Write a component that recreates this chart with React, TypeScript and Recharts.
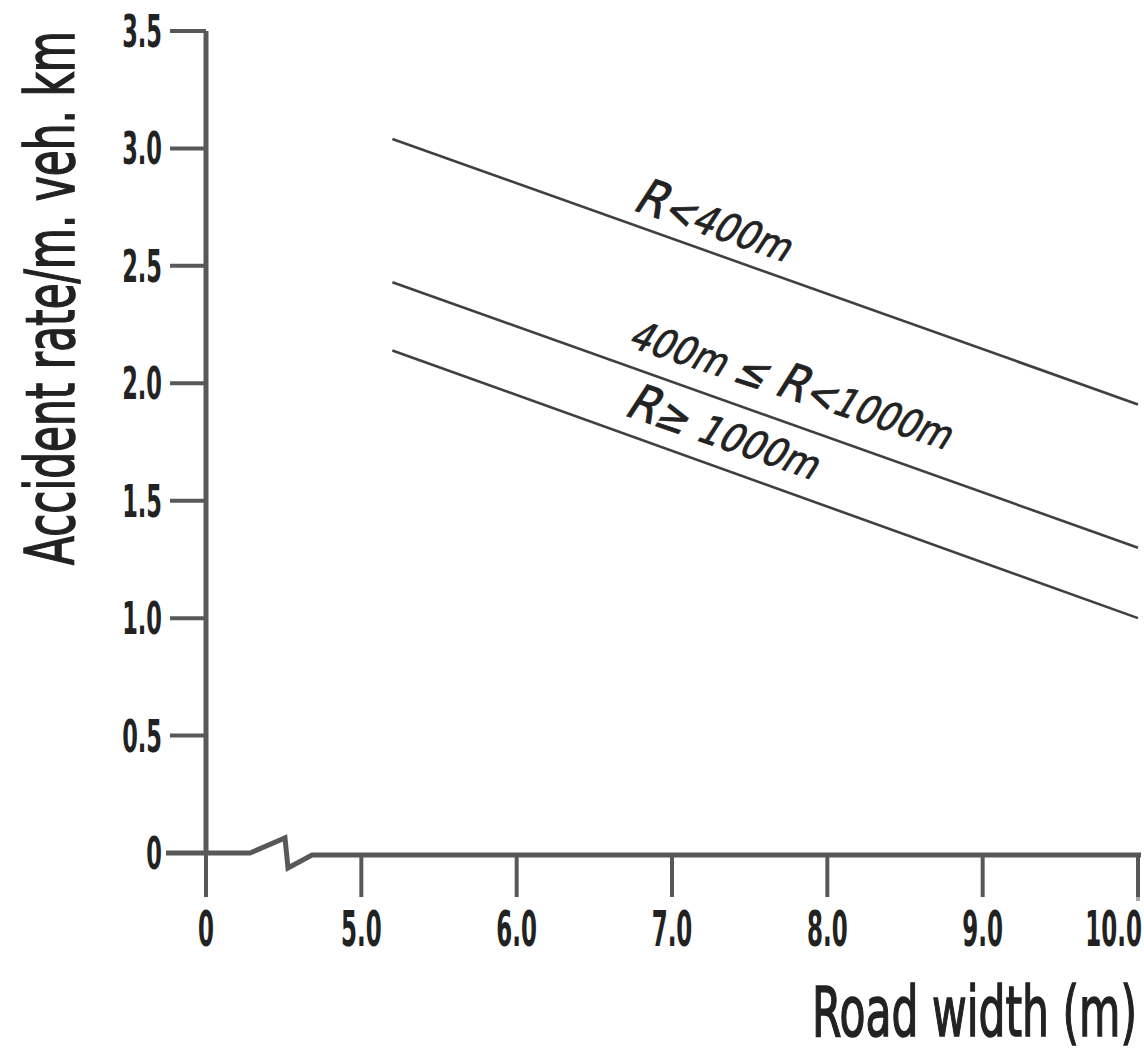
import React from 'react';
import { LineChart, Line, XAxis, YAxis, ReferenceDot, Customized } from 'recharts';

// Road width (m) at the two ends of each fitted line
const roadWidth = [5.2, 10];
// Accident rate per million veh-km, by curve radius
const rateTightCurve = [3.04, 1.91]; // R < 400m
const rateMediumCurve = [2.43, 1.3]; // 400m <= R < 1000m
const rateGentleCurve = [2.14, 1.0]; // R >= 1000m

const xTicks = [4, 5, 6, 7, 8, 9, 10];
const xTickLabels = ['0', '5.0', '6.0', '7.0', '8.0', '9.0', '10.0'];
const yTicks = [0, 0.5, 1, 1.5, 2, 2.5, 3, 3.5];
const yTickLabels = ['0', '0.5', '1.0', '1.5', '2.0', '2.5', '3.0', '3.5'];

const data = roadWidth.map((w, i) => ({
  width: w,
  tight: rateTightCurve[i],
  medium: rateMediumCurve[i],
  gentle: rateGentleCurve[i],
}));

const FONT = '"DejaVu Sans", Verdana, sans-serif';
const INK = '#222';
const LINE = '#404040';
const AXIS = '#585858';

const W = 1144;
const H = 1051;
const PLOT_LEFT = 206;
const PLOT_BOTTOM = 853;
const PLOT_RIGHT = 1138;

const YTick = ({ x, y, payload }: any) => {
  const label = yTickLabels[yTicks.indexOf(payload.value)];
  return (
    <g transform={`translate(${x},${y}) scale(0.5,1)`}>
      <text x={0} y={16} textAnchor="end" fontFamily={FONT} fontWeight="bold" fontSize={45} fill={INK}>
        {label}
      </text>
    </g>
  );
};

const XTick = ({ x, y, payload }: any) => {
  const label = xTickLabels[xTicks.indexOf(payload.value)];
  const last = payload.value === xTicks[xTicks.length - 1];
  // the last label is pulled in so it stays on the page
  return (
    <g transform={`translate(${last ? W - 2 : x},${y}) scale(0.46,1)`}>
      <text
        x={0}
        y={49}
        textAnchor={last ? 'end' : 'middle'}
        fontFamily={FONT}
        fontWeight="bold"
        fontSize={50}
        fill={INK}
      >
        {label}
      </text>
    </g>
  );
};

// rotated, slanted note that sits along a line
const CurveLabel = ({ cx, cy, angle, length, children }: any) => (
  <text
    transform={`translate(${cx},${cy}) rotate(${angle}) skewX(-14)`}
    x={0}
    y={14}
    textAnchor="middle"
    fontFamily={FONT}
    fill={INK}
    stroke={INK}
    strokeWidth={0.8}
    textLength={length}
    lengthAdjust="spacingAndGlyphs"
  >
    {children}
  </text>
);

// x axis drawn by hand so it can carry the break mark near the origin
const AxisFrame = () => (
  <g>
    <polyline
      points={`${PLOT_LEFT - 40},${PLOT_BOTTOM} 250,${PLOT_BOTTOM} 285,838 288,868 312,${PLOT_BOTTOM + 2} ${PLOT_RIGHT + 3},${PLOT_BOTTOM + 2}`}
      fill="none"
      stroke={AXIS}
      strokeWidth={5}
      strokeLinejoin="miter"
    />
    <line x1={PLOT_RIGHT} y1={PLOT_BOTTOM} x2={PLOT_RIGHT} y2={PLOT_BOTTOM + 48} stroke="#aaa" strokeWidth={4} />
    <g transform="translate(74,298) rotate(-90) scale(0.6,1)">
      <text
        x={0}
        y={0}
        textAnchor="middle"
        fontFamily={FONT}
        fontSize={68}
        fill={INK}
        stroke={INK}
        strokeWidth={1.6}
        textLength={890}
        lengthAdjust="spacingAndGlyphs"
      >
        Accident rate/m. veh. km
      </text>
    </g>
    <g transform="translate(812,1036) scale(0.52,1)">
      <text
        x={0}
        y={0}
        fontFamily={FONT}
        fontSize={70}
        fill={INK}
        stroke={INK}
        strokeWidth={1.6}
        textLength={625}
        lengthAdjust="spacingAndGlyphs"
      >
        Road width (m)
      </text>
    </g>
  </g>
);

export default function App() {
  return (
    <div style={{ position: 'absolute', left: 0, top: 0, width: W, height: H, background: '#fff' }}>
      <LineChart width={W} height={H} data={data} margin={{ top: 31, right: W - PLOT_RIGHT, bottom: 0, left: 0 }}>
        <XAxis
          dataKey="width"
          type="number"
          domain={[4, 10]}
          ticks={xTicks}
          height={H - PLOT_BOTTOM}
          axisLine={false}
          tickSize={44}
          tickMargin={0}
          tickLine={{ stroke: AXIS, strokeWidth: 4 }}
          tick={(p: any) => <XTick {...p} />}
          interval={0}
        />
        <YAxis
          type="number"
          domain={[0, 3.5]}
          ticks={yTicks}
          width={PLOT_LEFT}
          axisLine={{ stroke: AXIS, strokeWidth: 5 }}
          tickSize={36}
          tickMargin={8}
          tickLine={{ stroke: AXIS, strokeWidth: 4 }}
          tick={(p: any) => <YTick {...p} />}
          interval={0}
        />
        <Customized component={<AxisFrame />} />
        <Line type="linear" dataKey="tight" stroke={LINE} strokeWidth={2.6} dot={false} isAnimationActive={false} />
        <Line type="linear" dataKey="medium" stroke={LINE} strokeWidth={2.6} dot={false} isAnimationActive={false} />
        <Line type="linear" dataKey="gentle" stroke={LINE} strokeWidth={2.6} dot={false} isAnimationActive={false} />
        <ReferenceDot
          x={7.28}
          y={2.68}
          r={0}
          shape={(p: any) => (
            <CurveLabel cx={p.cx} cy={p.cy} angle={19} length={162}>
              <tspan fontSize={50}>R</tspan>
              <tspan fontSize={42}>{'<'}</tspan>
              <tspan fontSize={40}>400m</tspan>
            </CurveLabel>
          )}
        />
        <ReferenceDot
          x={7.78}
          y={1.99}
          r={0}
          shape={(p: any) => (
            <CurveLabel cx={p.cx} cy={p.cy} angle={18} length={335}>
              <tspan fontSize={40}>400m </tspan>
              <tspan fontSize={44}>{'≤ '}</tspan>
              <tspan fontSize={50}>R</tspan>
              <tspan fontSize={42}>{'<'}</tspan>
              <tspan fontSize={40}>1000m</tspan>
            </CurveLabel>
          )}
        />
        <ReferenceDot
          x={7.34}
          y={1.78}
          r={0}
          shape={(p: any) => (
            <CurveLabel cx={p.cx} cy={p.cy} angle={19} length={200}>
              <tspan fontSize={50}>R</tspan>
              <tspan fontSize={44}>{'≥ '}</tspan>
              <tspan fontSize={40}>1000m</tspan>
            </CurveLabel>
          )}
        />
      </LineChart>
    </div>
  );
}
